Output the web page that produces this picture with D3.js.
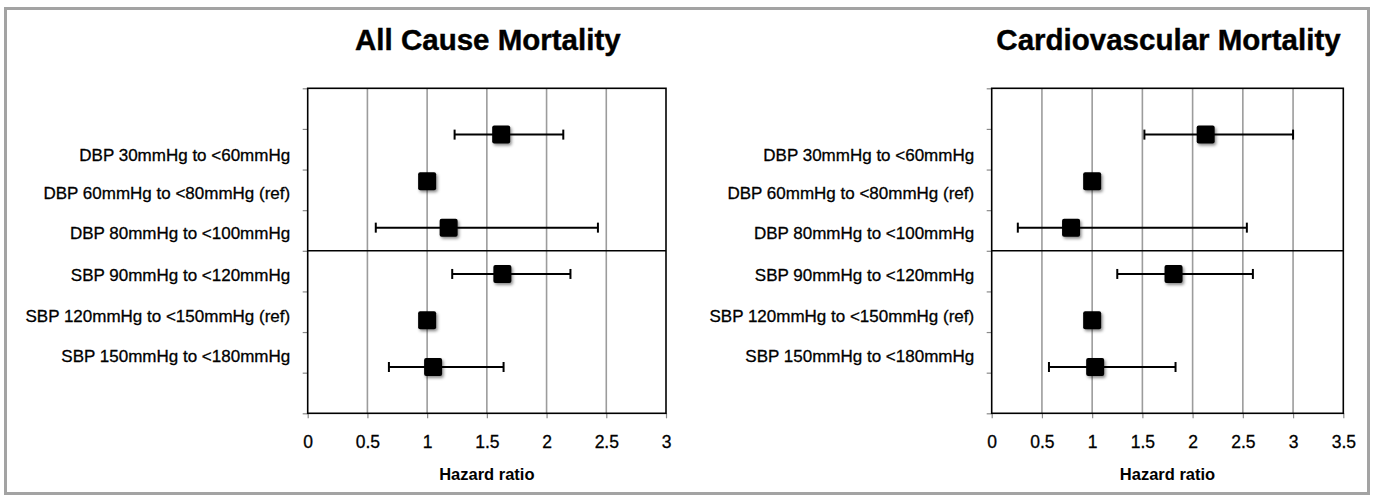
<!DOCTYPE html>
<html><head><meta charset="utf-8">
<script src="https://cdn.jsdelivr.net/npm/d3@7"></script>
<style>
body{margin:0;background:#fff}
text{font-family:"Liberation Sans",Arial,sans-serif;fill:#000}
</style>
</head><body><svg id="chart" width="1374" height="500"></svg>
<script>
// ---- data ----
const categories = ["DBP 30mmHg to <60mmHg", "DBP 60mmHg to <80mmHg (ref)", "DBP 80mmHg to <100mmHg",
  "SBP 90mmHg to <120mmHg", "SBP 120mmHg to <150mmHg (ref)", "SBP 150mmHg to <180mmHg"];
const rowValues = [6.86, 5.71, 4.57, 3.43, 2.29, 1.14];      // y-values of the plotted points
const labelValues = [6.36, 5.42, 4.44, 3.41, 2.40, 1.41];    // y-values of the category labels
const allCauseHR = [1.62, 1.00, 1.18, 1.63, 1.00, 1.05];
const allCauseLower = [1.23, null, 0.57, 1.21, null, 0.68];
const allCauseUpper = [2.14, null, 2.43, 2.20, null, 1.64];
const cvHR = [2.13, 1.00, 0.79, 1.81, 1.00, 1.03];
const cvLower = [1.52, null, 0.26, 1.25, null, 0.57];
const cvUpper = [3.00, null, 2.54, 2.60, null, 1.83];
const allCauseTicks = [0, 0.5, 1, 1.5, 2, 2.5, 3];
const cvTicks = [0, 0.5, 1, 1.5, 2, 2.5, 3, 3.5];
const yTicks = [0, 1, 2, 3, 4, 5, 6, 7, 8];
const dividerValue = 4;
const titles = ["All Cause Mortality", "Cardiovascular Mortality"];
const xTitle = "Hazard ratio";

// ---- drawing ----
(function () {
const svg = d3.select("#chart");
const defs = svg.append("defs");
const f = defs.append("filter").attr("id", "shadow").attr("x", "-30%").attr("y", "-30%").attr("width", "180%").attr("height", "180%");
f.append("feDropShadow").attr("dx", 1.5).attr("dy", 2).attr("stdDeviation", 1.6)
  .attr("flood-color", "#000").attr("flood-opacity", 0.45);

// outer frame
svg.append("rect").attr("x", 5.5).attr("y", 8.5).attr("width", 1363).attr("height", 485)
  .attr("fill", "none").attr("stroke", "#a3a3a3").attr("stroke-width", 3);

const plotTop = 88.3, plotBottom = 413.3;
const y = d3.scaleLinear().domain([0, 8]).range([plotBottom, plotTop]);

const panels = [
  {title: titles[0], left: 307.7, right: 666, max: 3, ticks: allCauseTicks, hr: allCauseHR, lo: allCauseLower, hi: allCauseUpper},
  {title: titles[1], left: 991.7, right: 1343.3, max: 3.5, ticks: cvTicks, hr: cvHR, lo: cvLower, hi: cvUpper}
];

panels.forEach(p => {
  const x = d3.scaleLinear().domain([0, p.max]).range([p.left, p.right]);
  const g = svg.append("g");
  const cx = (p.left + p.right) / 2;

  // title
  g.append("text").attr("x", cx + 1).attr("y", 50).attr("text-anchor", "middle")
    .style("font-size", "29.5px").style("font-weight", "bold")
    .attr("stroke", "#000").attr("stroke-width", 0.4).text(p.title);

  // gridlines
  g.append("g").selectAll("line").data(p.ticks.filter(t => t > 0 && t < p.max)).join("line")
    .attr("x1", d => x(d)).attr("x2", d => x(d)).attr("y1", plotTop).attr("y2", plotBottom)
    .attr("stroke", "#9c9c9c").attr("stroke-width", 1.6);

  // x axis
  const xAxis = d3.axisBottom(x).tickValues(p.ticks).tickSize(5).tickPadding(0).tickFormat(d3.format("~g"));
  const xa = g.append("g").attr("transform", `translate(0,${plotBottom})`).call(xAxis);
  xa.select(".domain").remove();
  xa.selectAll(".tick line").attr("stroke", "#8a8a8a").attr("stroke-width", 1.2);
  xa.attr("font-family", null).attr("font-size", null);
  xa.selectAll(".tick text").attr("y", 34.5).attr("dy", null).style("font-size", "17.5px")
    .attr("stroke", "#000").attr("stroke-width", 0.3);

  // y axis ticks
  const yAxis = d3.axisLeft(y).tickValues(yTicks).tickSize(5).tickFormat("");
  const ya = g.append("g").attr("transform", `translate(${p.left},0)`).call(yAxis);
  ya.select(".domain").remove();
  ya.selectAll(".tick line").attr("stroke", "#8a8a8a").attr("stroke-width", 1.2);

  // plot border
  g.append("rect").attr("x", p.left).attr("y", plotTop).attr("width", p.right - p.left).attr("height", plotBottom - plotTop)
    .attr("fill", "none").attr("stroke", "#000").attr("stroke-width", 1.6);

  // divider
  g.append("line").attr("x1", p.left).attr("x2", p.right).attr("y1", y(dividerValue)).attr("y2", y(dividerValue))
    .attr("stroke", "#000").attr("stroke-width", 1.4);

  // category labels
  g.append("g").selectAll("text").data(categories).join("text")
    .attr("x", p.left - 17.5).attr("y", (d, i) => y(labelValues[i])).attr("dy", "0.36em")
    .attr("text-anchor", "end").style("font-size", "17px")
    .attr("stroke", "#000").attr("stroke-width", 0.3).text(d => d);

  // axis title
  g.append("text").attr("x", cx).attr("y", 479.5).attr("text-anchor", "middle")
    .style("font-size", "16.5px").style("font-weight", "bold").text(xTitle);

  const rows = categories.map((c, i) => ({hr: p.hr[i], lo: p.lo[i], hi: p.hi[i], yv: rowValues[i]}));
  const withCI = rows.filter(r => r.lo != null);

  // error bars
  const eb = g.append("g").attr("stroke", "#000").attr("stroke-width", 2);
  eb.selectAll("line.ci").data(withCI).join("line").attr("class", "ci")
    .attr("x1", d => x(d.lo)).attr("x2", d => x(d.hi)).attr("y1", d => y(d.yv)).attr("y2", d => y(d.yv));
  eb.selectAll("line.capl").data(withCI).join("line").attr("class", "capl")
    .attr("x1", d => x(d.lo)).attr("x2", d => x(d.lo)).attr("y1", d => y(d.yv) - 5).attr("y2", d => y(d.yv) + 5);
  eb.selectAll("line.caph").data(withCI).join("line").attr("class", "caph")
    .attr("x1", d => x(d.hi)).attr("x2", d => x(d.hi)).attr("y1", d => y(d.yv) - 5).attr("y2", d => y(d.yv) + 5);

  // markers
  const s = 18;
  g.append("g").selectAll("rect").data(rows).join("rect")
    .attr("x", d => x(d.hr) - s / 2).attr("y", d => y(d.yv) - s / 2)
    .attr("width", s).attr("height", s).attr("rx", 2).attr("fill", "#000")
    .attr("filter", "url(#shadow)");
});
})();
</script>
</body></html>
